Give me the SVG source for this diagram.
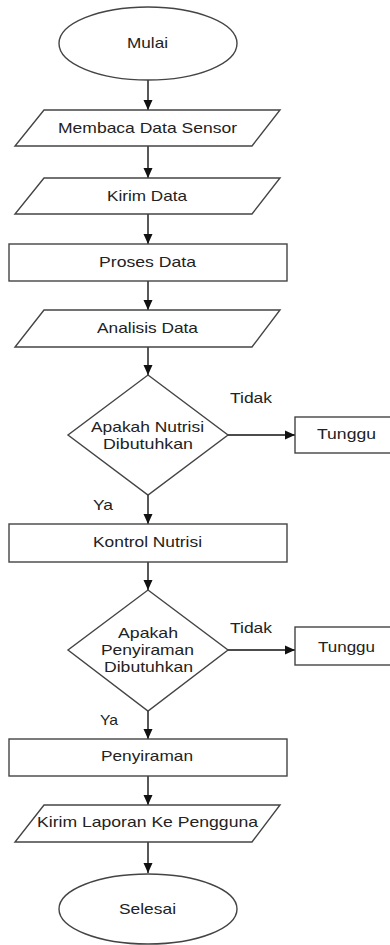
<svg xmlns="http://www.w3.org/2000/svg" width="390" height="945" viewBox="0 0 390 945">
<defs>
<marker id="ah" markerUnits="userSpaceOnUse" markerWidth="10" markerHeight="10" viewBox="0 0 10 10" refX="10" refY="5" orient="auto">
<path d="M0,0.5 L10,5 L0,9.5 z" fill="#111"/>
</marker>
<style>
.s{fill:#fff;stroke:#444;stroke-width:1.4}
.t{font-family:"Liberation Sans",Arial,sans-serif;font-size:15px;fill:#222;text-anchor:middle}
.l{font-family:"Liberation Sans",Arial,sans-serif;font-size:15px;fill:#222}
.c{fill:none;stroke:#111;stroke-width:1.4;marker-end:url(#ah)}
</style>
</defs>
<rect width="390" height="945" fill="#fff"/>
<g id="connectors">
<line class="c" x1="148" y1="80" x2="148" y2="110"/>
<line class="c" x1="148" y1="146" x2="148" y2="178"/>
<line class="c" x1="148" y1="214" x2="148" y2="244"/>
<line class="c" x1="148" y1="281" x2="148" y2="310"/>
<line class="c" x1="148" y1="347" x2="148" y2="375"/>
<line class="c" x1="148" y1="495" x2="148" y2="524"/>
<line class="c" x1="148" y1="562" x2="148" y2="590"/>
<line class="c" x1="148" y1="711" x2="148" y2="739"/>
<line class="c" x1="148" y1="776" x2="148" y2="805"/>
<line class="c" x1="148" y1="842" x2="148" y2="873"/>
<line class="c" x1="228" y1="435" x2="295" y2="435"/>
<line class="c" x1="228" y1="650" x2="295" y2="650"/>
<text class="l" x="230" y="403" textLength="42" lengthAdjust="spacingAndGlyphs">Tidak</text>
<text class="l" x="93" y="510" textLength="20" lengthAdjust="spacingAndGlyphs">Ya</text>
<text class="l" x="230" y="633" textLength="42" lengthAdjust="spacingAndGlyphs">Tidak</text>
<text class="l" x="100" y="725" textLength="18" lengthAdjust="spacingAndGlyphs">Ya</text>
</g>
<g id="mulai">
<ellipse class="s" cx="148" cy="43.5" rx="89" ry="36.5"/>
<text class="t" x="147.5" y="48" textLength="41" lengthAdjust="spacingAndGlyphs">Mulai</text>
</g>
<g id="membaca">
<polygon class="s" points="44,110 280,110 252,146 15,146"/>
<text class="t" x="147.5" y="133" textLength="179" lengthAdjust="spacingAndGlyphs">Membaca Data Sensor</text>
</g>
<g id="kirim">
<polygon class="s" points="44,178 280,178 252,214 15,214"/>
<text class="t" x="147" y="201" textLength="80" lengthAdjust="spacingAndGlyphs">Kirim Data</text>
</g>
<g id="proses">
<rect class="s" x="9" y="244" width="278" height="37"/>
<text class="t" x="147.5" y="267" textLength="97" lengthAdjust="spacingAndGlyphs">Proses Data</text>
</g>
<g id="analisis">
<polygon class="s" points="44,310 280,310 252,347 15,347"/>
<text class="t" x="147.5" y="333" textLength="101" lengthAdjust="spacingAndGlyphs">Analisis Data</text>
</g>
<g id="nutrisi-q">
<polygon class="s" points="148,375 228,435 148,495 68,435"/>
<text class="t" x="147.5" y="432" textLength="113" lengthAdjust="spacingAndGlyphs">Apakah Nutrisi</text>
<text class="t" x="148" y="449" textLength="90" lengthAdjust="spacingAndGlyphs">Dibutuhkan</text>
</g>
<g id="tunggu1">
<rect class="s" x="295" y="417" width="100" height="36"/>
<text class="t" x="346.5" y="439" textLength="59" lengthAdjust="spacingAndGlyphs">Tunggu</text>
</g>
<g id="kontrol">
<rect class="s" x="9" y="524" width="278" height="38"/>
<text class="t" x="147.5" y="547" textLength="109" lengthAdjust="spacingAndGlyphs">Kontrol Nutrisi</text>
</g>
<g id="siram-q">
<polygon class="s" points="148,590 228,650 148,711 68,650"/>
<text class="t" x="148" y="638" textLength="60" lengthAdjust="spacingAndGlyphs">Apakah</text>
<text class="t" x="147.5" y="655" textLength="93" lengthAdjust="spacingAndGlyphs">Penyiraman</text>
<text class="t" x="148.5" y="672" textLength="89" lengthAdjust="spacingAndGlyphs">Dibutuhkan</text>
</g>
<g id="tunggu2">
<rect class="s" x="295" y="627" width="100" height="38"/>
<text class="t" x="346.5" y="652" textLength="57" lengthAdjust="spacingAndGlyphs">Tunggu</text>
</g>
<g id="penyiraman">
<rect class="s" x="9" y="739" width="278" height="37"/>
<text class="t" x="147" y="761" textLength="92" lengthAdjust="spacingAndGlyphs">Penyiraman</text>
</g>
<g id="laporan">
<polygon class="s" points="44,805 280,805 252,842 15,842"/>
<text class="t" x="147.5" y="827" textLength="221" lengthAdjust="spacingAndGlyphs">Kirim Laporan Ke Pengguna</text>
</g>
<g id="selesai">
<ellipse class="s" cx="148" cy="909" rx="89" ry="35"/>
<text class="t" x="147.5" y="914" textLength="57" lengthAdjust="spacingAndGlyphs">Selesai</text>
</g>
</svg>
